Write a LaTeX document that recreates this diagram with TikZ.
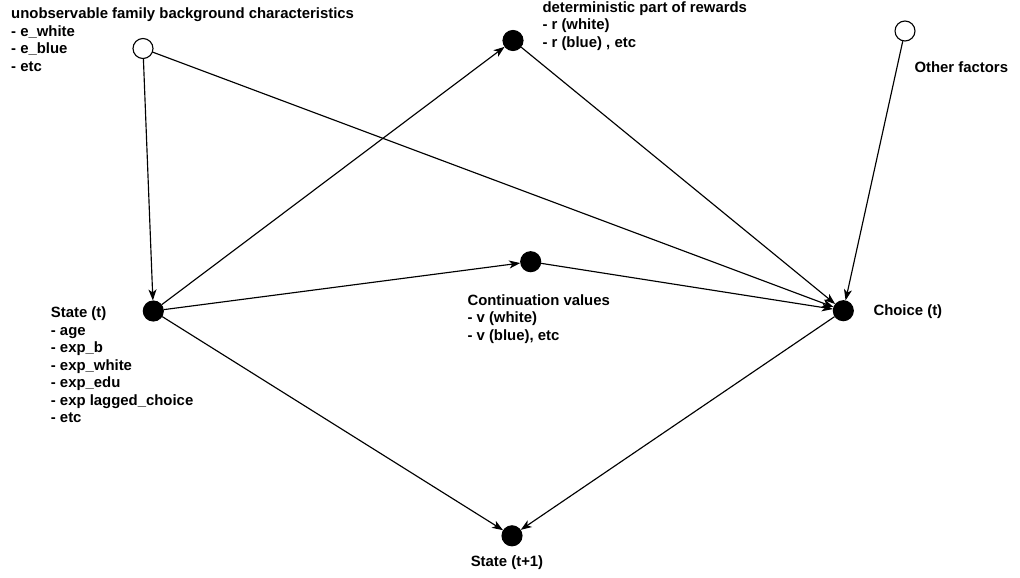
\documentclass[tikz,border=0pt]{standalone}
\usepackage{fontspec}
\setmainfont{Liberation Sans}
\usetikzlibrary{arrows.meta}
\begin{document}
\begin{tikzpicture}[x=1pt,y=-1pt,
  dot/.style={circle,draw=black,fill=black,line width=1.1pt,minimum size=20pt,inner sep=0pt},
  odot/.style={dot,fill=white},
  lbl/.style={font=\fontsize{14.9}{17.5}\selectfont\bfseries,align=left,inner sep=0pt,anchor=base west},
  arr/.style={-{Stealth[length=11pt,width=8pt,inset=3pt]},line width=1.15pt}]
\useasboundingbox[fill=white] (0,0) rectangle (1020,578);
% circles
\node[odot] (E) at (143,48.5) {};
\node[dot] (R) at (513,40.5) {};
\node[odot] (O) at (905,31) {};
\node[dot] (S) at (153.3,311) {};
\node[dot] (V) at (530.7,261.7) {};
\node[dot] (C) at (843.3,310.7) {};
\node[dot] (S1) at (512,535.8) {};
% labels (anchored at the baseline of the last line)
\node[lbl] (tE) at (11,71) {unobservable family background characteristics\\- e\_white\\- e\_blue\\- etc};
\node[lbl] (tR) at (542.3,47.3) {deterministic part of rewards\\- r (white)\\- r (blue) , etc};
\node[lbl] (tO) at (914.3,72.7) {Other factors};
\node[lbl] (tS) at (50.7,422.7) {State (t)\\- age\\- exp\_b\\- exp\_white\\- exp\_edu\\- exp lagged\_choice\\- etc};
\node[lbl] (tV) at (467.3,340) {Continuation values\\- v (white)\\- v (blue), etc};
\node[lbl] (tC) at (873.3,315.7) {Choice (t)};
\node[lbl,anchor=base] (tS1) at (507,566.7) {State (t+1)};
% edges
\draw[arr] (E) -- (S);
\draw[arr] (E) -- (C);
\draw[arr] (S) -- (R);
\draw[arr] (R) -- (C);
\draw[arr] (S) -- (V);
\draw[arr] (V) -- (C);
\draw[arr] (O) -- (C);
\draw[arr] (S) -- (S1);
\draw[arr] (C) -- (S1);
\end{tikzpicture}
\end{document}
